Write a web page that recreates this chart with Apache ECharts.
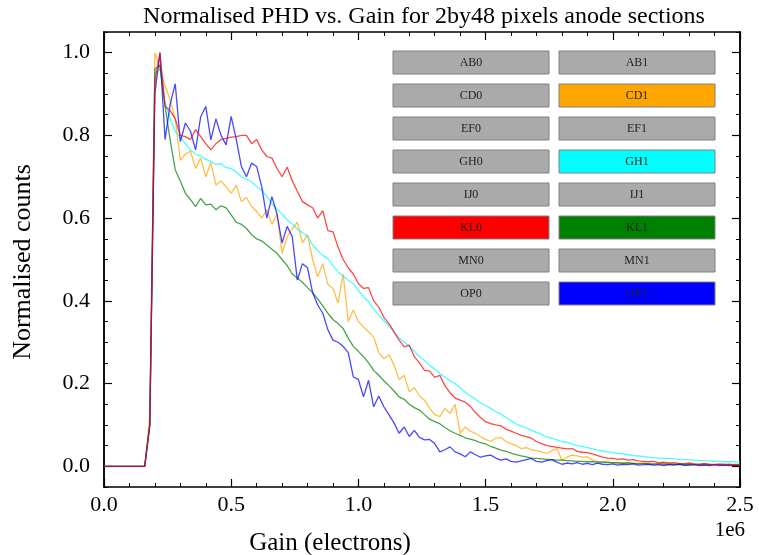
<!DOCTYPE html>
<html>
<head>
<meta charset="utf-8">
<title>Normalised PHD vs. Gain</title>
<script src="https://cdn.jsdelivr.net/npm/echarts@6/dist/echarts.min.js"></script>
<style>
  html, body { margin: 0; padding: 0; background: #fff; }
  #chart { width: 759px; height: 555px; }
</style>
</head>
<body>
<div id="chart"></div>
<script>
// gain bins, in units of 1e6 electrons
const gain = [
  0, 0.02, 0.04, 0.06, 0.08, 0.10, 0.12, 0.14, 0.16, 0.18,
  0.20, 0.22, 0.24, 0.26, 0.28, 0.30, 0.32, 0.34, 0.36, 0.38,
  0.40, 0.42, 0.44, 0.46, 0.48, 0.50, 0.52, 0.54, 0.56, 0.58,
  0.60, 0.62, 0.64, 0.66, 0.68, 0.70, 0.72, 0.74, 0.76, 0.78,
  0.80, 0.82, 0.84, 0.86, 0.88, 0.90, 0.92, 0.94, 0.96, 0.98,
  1.00, 1.02, 1.04, 1.06, 1.08, 1.10, 1.12, 1.14, 1.16, 1.18,
  1.20, 1.22, 1.24, 1.26, 1.28, 1.30, 1.32, 1.34, 1.36, 1.38,
  1.40, 1.42, 1.44, 1.46, 1.48, 1.50, 1.52, 1.54, 1.56, 1.58,
  1.60, 1.62, 1.64, 1.66, 1.68, 1.70, 1.72, 1.74, 1.76, 1.78,
  1.80, 1.82, 1.84, 1.86, 1.88, 1.90, 1.92, 1.94, 1.96, 1.98,
  2.00, 2.02, 2.04, 2.06, 2.08, 2.10, 2.12, 2.14, 2.16, 2.18,
  2.20, 2.22, 2.24, 2.26, 2.28, 2.30, 2.32, 2.34, 2.36, 2.38,
  2.40, 2.42, 2.44, 2.46, 2.48, 2.50
];

// normalised counts per section
const cd1 = [
  0, 0, 0, 0, 0, 0, 0, 0, 0, 0.12,
  1.0, 0.96, 0.92, 0.886, 0.84, 0.74, 0.755, 0.762, 0.72, 0.745,
  0.70, 0.735, 0.68, 0.69, 0.676, 0.66, 0.68, 0.64, 0.65, 0.628,
  0.616, 0.60, 0.62, 0.585, 0.61, 0.515, 0.555, 0.575, 0.59, 0.54,
  0.56, 0.50, 0.458, 0.49, 0.44, 0.43, 0.395, 0.465, 0.35, 0.378,
  0.35, 0.337, 0.325, 0.313, 0.275, 0.26, 0.27, 0.245, 0.21, 0.22,
  0.18, 0.19, 0.17, 0.16, 0.14, 0.125, 0.12, 0.14, 0.128, 0.15,
  0.08, 0.095, 0.085, 0.08, 0.072, 0.065, 0.06, 0.068, 0.07, 0.06,
  0.055, 0.05, 0.043, 0.045, 0.04, 0.038, 0.035, 0.031, 0.038, 0.043,
  0.015, 0.022, 0.027, 0.025, 0.022, 0.023, 0.015, 0.012, 0.01, 0.012,
  0.008, 0.01, 0.006, 0.009, 0.007, 0.005, 0.008, 0.006, 0.004, 0.007,
  0.005, 0.006, 0.004, 0.006, 0.005, 0.003, 0.006, 0.004, 0.005, 0.003,
  0.005, 0.004, 0.006, 0.003, 0.005, 0.004
];
const gh1 = [
  0, 0, 0, 0, 0, 0, 0, 0, 0, 0.10,
  0.95, 0.96, 0.88, 0.84, 0.81, 0.795, 0.78, 0.765, 0.755, 0.75,
  0.742, 0.737, 0.73, 0.732, 0.722, 0.72, 0.712, 0.70, 0.694, 0.688,
  0.676, 0.668, 0.652, 0.635, 0.622, 0.61, 0.596, 0.586, 0.573, 0.565,
  0.556, 0.535, 0.522, 0.51, 0.502, 0.485, 0.47, 0.46, 0.45, 0.442,
  0.425, 0.41, 0.398, 0.38, 0.366, 0.352, 0.34, 0.325, 0.31, 0.3,
  0.29, 0.278, 0.265, 0.256, 0.244, 0.235, 0.224, 0.216, 0.207, 0.2,
  0.19, 0.179, 0.17, 0.163, 0.153, 0.147, 0.14, 0.132, 0.126, 0.118,
  0.11, 0.103, 0.097, 0.093, 0.087, 0.082, 0.077, 0.071, 0.068, 0.064,
  0.06, 0.058, 0.054, 0.05, 0.048, 0.045, 0.042, 0.039, 0.037, 0.035,
  0.033, 0.031, 0.03, 0.028, 0.026, 0.025, 0.024, 0.022, 0.021, 0.02,
  0.019, 0.019, 0.018, 0.017, 0.016, 0.016, 0.015, 0.014, 0.014, 0.013,
  0.012, 0.012, 0.011, 0.011, 0.010, 0.010
];
const kl1 = [
  0, 0, 0, 0, 0, 0, 0, 0, 0, 0.10,
  0.96, 0.97, 0.87, 0.79, 0.717, 0.69, 0.66, 0.645, 0.628, 0.648,
  0.632, 0.634, 0.62, 0.63, 0.625, 0.608, 0.59, 0.585, 0.575, 0.56,
  0.55, 0.545, 0.535, 0.525, 0.515, 0.50, 0.485, 0.465, 0.455, 0.445,
  0.432, 0.42, 0.405, 0.388, 0.37, 0.355, 0.345, 0.333, 0.31, 0.29,
  0.278, 0.265, 0.25, 0.232, 0.22, 0.207, 0.195, 0.182, 0.168, 0.162,
  0.15, 0.142, 0.136, 0.125, 0.114, 0.108, 0.103, 0.094, 0.086, 0.08,
  0.075, 0.069, 0.066, 0.062, 0.057, 0.054, 0.048, 0.044, 0.039, 0.036,
  0.032, 0.028, 0.025, 0.023, 0.02, 0.019, 0.018, 0.017, 0.016, 0.015,
  0.015, 0.014, 0.013, 0.012, 0.012, 0.011, 0.011, 0.010, 0.010, 0.009,
  0.009, 0.008, 0.008, 0.008, 0.007, 0.007, 0.007, 0.006, 0.006, 0.006,
  0.006, 0.005, 0.005, 0.005, 0.005, 0.005, 0.004, 0.004, 0.004, 0.004,
  0.004, 0.004, 0.003, 0.003, 0.003, 0.003
];
const op1 = [
  0, 0, 0, 0, 0, 0, 0, 0, 0, 0.10,
  0.90, 1.0, 0.79, 0.875, 0.925, 0.785, 0.83, 0.81, 0.765, 0.845,
  0.87, 0.789, 0.84, 0.80, 0.777, 0.846, 0.79, 0.725, 0.70, 0.733,
  0.725, 0.676, 0.60, 0.652, 0.61, 0.54, 0.58, 0.555, 0.45, 0.49,
  0.48, 0.42, 0.39, 0.37, 0.33, 0.305, 0.30, 0.29, 0.275, 0.216,
  0.21, 0.168, 0.208, 0.144, 0.17, 0.144, 0.125, 0.105, 0.08, 0.095,
  0.072, 0.087, 0.07, 0.064, 0.065, 0.055, 0.035, 0.04, 0.047, 0.035,
  0.03, 0.023, 0.035, 0.028, 0.022, 0.025, 0.027, 0.02, 0.015, 0.018,
  0.012, 0.01, 0.013, 0.016, 0.019, 0.012, 0.01, 0.014, 0.016, 0.01,
  0.005, 0.008, 0.006, 0.009, 0.005, 0.007, 0.004, 0.008, 0.005, 0.004,
  0.006, 0.003, 0.005, 0.004, 0.006, 0.003, 0.004, 0.005, 0.003, 0.004,
  0.002, 0.004, 0.003, 0.005, 0.002, 0.003, 0.004, 0.002, 0.003, 0.002,
  0.004, 0.002, 0.003, 0.002, 0.003, 0.002
];
const kl0 = [
  0, 0, 0, 0, 0, 0, 0, 0, 0, 0.10,
  0.93, 1.0, 0.87, 0.86, 0.84, 0.80, 0.797, 0.79, 0.814, 0.797,
  0.78, 0.765, 0.78, 0.79, 0.793, 0.796, 0.797, 0.80, 0.80, 0.78,
  0.79, 0.765, 0.749, 0.745, 0.72, 0.70, 0.723, 0.69, 0.665, 0.64,
  0.632, 0.625, 0.60, 0.618, 0.57, 0.567, 0.53, 0.50, 0.48, 0.465,
  0.442, 0.43, 0.432, 0.40, 0.385, 0.36, 0.345, 0.325, 0.305, 0.289,
  0.293, 0.265, 0.25, 0.232, 0.23, 0.215, 0.22, 0.195, 0.178, 0.165,
  0.16, 0.155, 0.145, 0.13, 0.118, 0.108, 0.103, 0.10, 0.098, 0.09,
  0.085, 0.08, 0.075, 0.072, 0.068, 0.06, 0.055, 0.05, 0.048, 0.046,
  0.044, 0.042, 0.043, 0.036, 0.034, 0.033, 0.030, 0.026, 0.022, 0.02,
  0.019, 0.017, 0.018, 0.015, 0.016, 0.013, 0.012, 0.011, 0.012, 0.009,
  0.010, 0.008, 0.009, 0.007, 0.006, 0.008, 0.006, 0.005, 0.007, 0.005,
  0.004, 0.006, 0.004, 0.005, 0.003, 0.004
];

// anode sections shown in the selector grid (row by row, two columns)
const sections = [
  'AB0', 'AB1', 'CD0', 'CD1', 'EF0', 'EF1', 'GH0', 'GH1',
  'IJ0', 'IJ1', 'KL0', 'KL1', 'MN0', 'MN1', 'OP0', 'OP1'
];
// plotted sections, in drawing order
const plotted = ['CD1', 'GH1', 'KL1', 'OP1', 'KL0'];
const plottedData = [cd1, gh1, kl1, op1, kl0];
const plottedColors = ['#ffa500', '#00ffff', '#008000', '#0000ff', '#ff0000'];

const yMajor = [0, 0.2, 0.4, 0.6, 0.8, 1.0];

(function () {
  const FONT = '"Liberation Serif", "DejaVu Serif", serif';
  const chart = echarts.init(document.getElementById('chart'), null, { renderer: 'canvas' });

  const grid = { left: 104, right: 19, top: 32, bottom: 68 };
  const axisLine = { show: true, onZero: false, lineStyle: { color: '#000', width: 1.5 } };

  function xAx(pos, showLabel) {
    return {
      type: 'value', position: pos, min: 0, max: 2.5, interval: 0.5,
      axisLine: axisLine,
      axisTick: { inside: true, length: 8, lineStyle: { color: '#000', width: 1.2 } },
      minorTick: { show: true, splitNumber: 5, length: 4, lineStyle: { color: '#000', width: 1 } },
      axisLabel: {
        show: showLabel, margin: 7, color: '#000', fontSize: 22, fontFamily: FONT,
        formatter: v => v.toFixed(1)
      },
      splitLine: { show: false }
    };
  }
  // minor ticks every 0.05 (short), majors overlaid with custom values
  function yMinor(pos) {
    return {
      type: 'value', position: pos, min: -0.05, max: 1.05, interval: 0.05,
      axisLine: axisLine,
      axisTick: { inside: true, length: 4, lineStyle: { color: '#000', width: 1 } },
      axisLabel: { show: false },
      splitLine: { show: false }
    };
  }
  function yMaj(pos, showLabel) {
    return {
      type: 'value', position: pos, min: -0.05, max: 1.05,
      axisLine: axisLine,
      axisTick: { inside: true, length: 8, customValues: yMajor, lineStyle: { color: '#000', width: 1.2 } },
      axisLabel: {
        show: showLabel, customValues: yMajor, margin: 14, color: '#000', fontSize: 22, fontFamily: FONT,
        formatter: v => v.toFixed(1)
      },
      splitLine: { show: false }
    };
  }

  const series = plotted.map((name, k) => ({
    name: name,
    type: 'line',
    xAxisIndex: 0,
    yAxisIndex: 0,
    data: gain.map((g, i) => [g, plottedData[k][i]]),
    showSymbol: false,
    symbol: 'none',
    silent: true,
    lineStyle: { color: plottedColors[k], width: 1.3, opacity: 0.72 },
    z: 2 + k
  }));

  // selector grid drawn as boxes
  const boxes = [];
  sections.forEach((name, i) => {
    const row = Math.floor(i / 2), col = i % 2;
    const idx = plotted.indexOf(name);
    const fill = idx >= 0 ? plottedColors[idx] : '#aaaaaa';
    boxes.push({
      type: 'rect',
      shape: { x: 393 + col * 166, y: 51 + row * 33, width: 156, height: 23 },
      style: { fill: fill, stroke: '#808080', lineWidth: 1 },
      z: 20
    });
    boxes.push({
      type: 'text',
      x: 393 + col * 166 + 78, y: 51 + row * 33 + 12,
      style: {
        text: name, fill: '#222', font: '12px ' + FONT,
        textAlign: 'center', textVerticalAlign: 'middle'
      },
      z: 21
    });
  });

  chart.setOption({
    animation: false,
    backgroundColor: '#fff',
    grid: grid,
    xAxis: [xAx('bottom', true), xAx('top', false)],
    yAxis: [yMinor('left'), yMaj('left', true), yMinor('right'), yMaj('right', false)],
    series: series,
    graphic: boxes.concat([
      {
        type: 'text', x: 424, y: 17,
        style: {
          text: 'Normalised PHD vs. Gain for 2by48 pixels anode sections',
          fill: '#000', font: '24px ' + FONT, textAlign: 'center', textVerticalAlign: 'middle'
        }
      },
      {
        type: 'text', x: 330, y: 543,
        style: {
          text: 'Gain (electrons)', fill: '#000', font: '25px ' + FONT,
          textAlign: 'center', textVerticalAlign: 'middle'
        }
      },
      {
        type: 'text', x: 745, y: 530,
        style: {
          text: '1e6', fill: '#000', font: '21px ' + FONT,
          textAlign: 'right', textVerticalAlign: 'middle'
        }
      },
      {
        type: 'text', x: 23, y: 262, rotation: Math.PI / 2,
        style: {
          text: 'Normalised counts', fill: '#000', font: '26px ' + FONT,
          textAlign: 'center', textVerticalAlign: 'middle'
        }
      }
    ])
  });
})();
</script>
</body>
</html>
